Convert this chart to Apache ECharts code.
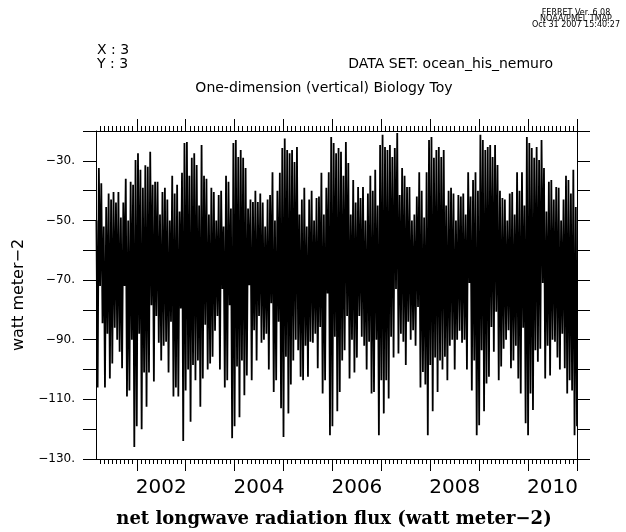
<!DOCTYPE html>
<html><head><meta charset="utf-8">
<script src="https://cdn.jsdelivr.net/npm/echarts@6/dist/echarts.min.js"></script>
<style>html,body{margin:0;padding:0;background:#fff;}#c{width:626px;height:532px;}</style>
</head><body><div id="c"></div>
<script>
// time base of the series (decimal years) and spacing between successive extremes
const startYear = 2001.175;
const stepYears = 0.05;
const axisMinYear = 2001.1667;
const axisMaxYear = 2011;

// upper extremes (watt meter-2)
const hiA = [-50,-32.4,-37.5,-52,-45.5,-41,-43,-40.5,-44,-40.5,
  -49,-44,-36,-50,-37,-38,-29.7,-27.5,-33,-39,
  -31.5,-32,-27,-38,-37,-37,-48,-40.5,-39,-43,
  -50,-35,-41,-38,-47,-34,-24,-23.7,-35,-29,
  -27.5,-31.4,-45,-24.7,-35,-36,-48,-39,-40.5,-50];
const hiB = [-41.5,-40,-52,-35,-37,-46,-24,-23,-28.7,-26.4,
  -29,-32.4,-46,-43,-43.8,-40,-43.8,-41,-44,-52,
  -43,-41.5,-33.8,-50,-40,-34,-25.7,-22.5,-26.4,-27.5,
  -26.4,-30.4,-25.4,-48,-43,-39,-52,-43,-40,-50,
  -42.5,-42,-34,-48,-39,-33.8,-22,-24,-27.5,-25.7];
const hiC = [-27,-35,-23.7,-30.7,-48,-36.4,-44,-38.8,-42.5,-38.8,
  -50,-41,-35,-40,-33,-45,-24.7,-21.3,-25.4,-26.4,
  -24.7,-28.7,-25.7,-20.7,-41.5,-32.4,-35,-38.8,-38.8,-50,
  -48,-42,-33.8,-40,-49,-33.8,-23,-22,-29,-26.4,
  -25.4,-28.7,-26.4,-45,-40,-39,-41,-50,-41.5,-42];
const hiD = [-41,-48,-33.8,-42,-36.4,-33.8,-40,-21.3,-23,-26.4,
  -25.4,-24.7,-28.7,-24.7,-31.4,-40,-42.5,-43,-50,-41,
  -40.5,-48,-33.8,-40,-33.8,-45,-22,-24,-25.7,-29,
  -25.4,-29.7,-23,-32.4,-47,-37,-36.4,-43,-38.8,-39,
  -50,-43,-35,-36.4,-41,-33,-45.5];

// lower extremes (watt meter-2)
const loA = [-106,-72,-84.5,-106,-88,-103,-98,-86,-90,-94,
  -99.6,-72,-109,-107,-90,-126,-119,-88,-120,-101,
  -112.5,-101,-78.4,-104,-82,-91,-97,-92,-90.7,-101,
  -84,-109,-106,-109,-79.5,-124,-107,-100,-117.5,-98.5,
  -103.6,-97,-112.5,-103,-85,-100,-98,-95.7,-87,-82];
const loB = [-100,-73,-106,-103.6,-78.4,-123,-119,-99,-116,-97,
  -108.6,-102,-71.7,-103.6,-86.8,-97,-82,-91,-90,-88,
  -100,-77.8,-107.5,-103.6,-84,-113,-122.6,-95.7,-114.7,-105,
  -97,-90,-93.5,-102.4,-103.6,-92,-102.4,-90.7,-91,-88,
  -99.6,-85.7,-108,-103.6,-74.5,-122,-119,-89,-114,-107.5];
const loC = [-97,-93.5,-82,-103,-90,-101,-96,-82,-89,-92,
  -100,-90.7,-108,-107.5,-90,-122,-103.6,-114.7,-103.6,-109.7,
  -89,-96,-73,-94.6,-88,-90.7,-98.5,-84,-90,-86.8,
  -92,-79,-106,-100.8,-105,-122,-98.5,-114,-96,-107.5,
  -97,-100,-95.7,-103.6,-92,-90,-100,-90,-87,-91];
const loD = [-90,-100,-71,-107,-97,-122,-118.7,-93.5,-114,-104.7,
  -102.4,-85.7,-94,-80.6,-103.6,-99,-93,-90,-86.8,-99.6,
  -97,-92,-103,-108,-86,-118,-122,-108,-113.6,-93.5,
  -97.4,-93,-71,-103,-92,-102,-90,-90.7,-96,-100,
  -88,-99.6,-108,-103.6,-107,-122,-119];

// tick labels
const yearLabels = [2002, 2004, 2006, 2008, 2010];
const yLabelValues = [-30, -50, -70, -90, -110, -130];
const yLabelTexts = ['\u221230.', '\u221250.', '\u221270.', '\u221290.', '\u2212110.', '\u2212130.'];
const yearTicks = [2002, 2003, 2004, 2005, 2006, 2007, 2008, 2009, 2010, 2011];

const hi = hiA.concat(hiB, hiC, hiD);
const lo = loA.concat(loB, loC, loD);
const seriesData = [];
for (let i = 0; i < hi.length; i++) {
  seriesData.push([startYear + i * stepYears, hi[i]]);
  seriesData.push([startYear + (i + 0.5) * stepYears, lo[i]]);
}
const monthTicks = [];
for (let y = 2001; y < 2011; y++) {
  for (let m = 0; m < 12; m++) {
    const v = y + m / 12;
    if (v > axisMinYear + 0.01 && v < axisMaxYear) monthTicks.push(v);
  }
}
const labelPos = yearLabels.map(y => y + 0.5);

const FONT = 'DejaVu Sans';
function xAx(pos, major, withLabels) {
  return {
    type: 'value', position: pos, min: axisMinYear, max: axisMaxYear,
    axisLine: { show: major, onZero: false, lineStyle: { color: '#000', width: 1 } },
    axisTick: { show: true, inside: false, length: major ? 12 : 5,
      customValues: major ? yearTicks : monthTicks,
      lineStyle: { color: '#000', width: 1 } },
    axisLabel: withLabels ? { show: true, customValues: labelPos,
      formatter: v => String(Math.floor(v)), color: '#000',
      fontFamily: FONT, fontSize: 20, margin: 19 } : { show: false },
    splitLine: { show: false }
  };
}

const chart = echarts.init(document.getElementById('c'), null, { renderer: 'canvas' });
chart.setOption({
  animation: false,
  backgroundColor: '#fff',
  grid: { left: 96, right: 49, top: 131, bottom: 73, containLabel: false },
  xAxis: [xAx('bottom', true, true), xAx('bottom', false, false), xAx('top', true, false), xAx('top', false, false)],
  yAxis: [
    { type: 'value', position: 'left', min: -130, max: -20, interval: 10,
      name: 'watt meter\u22122', nameLocation: 'middle', nameGap: 68,
      nameTextStyle: { color: '#000', fontFamily: FONT, fontSize: 16 },
      axisLine: { show: true, onZero: false, lineStyle: { color: '#000', width: 1 } },
      axisTick: { show: true, inside: false, length: 13, lineStyle: { color: '#000' } },
      axisLabel: { show: true, customValues: yLabelValues,
        formatter: v => yLabelTexts[yLabelValues.indexOf(v)] || '',
        color: '#000', fontFamily: FONT, fontSize: 12, margin: 21 },
      splitLine: { show: false } },
    { type: 'value', position: 'right', min: -130, max: -20, interval: 10,
      axisLine: { show: true, onZero: false, lineStyle: { color: '#000', width: 1 } },
      axisTick: { show: true, inside: false, length: 13, lineStyle: { color: '#000' } },
      axisLabel: { show: false }, splitLine: { show: false } }
  ],
  series: [{
    type: 'line', xAxisIndex: 0, yAxisIndex: 0, data: seriesData,
    showSymbol: false, symbol: 'none', sampling: null, clip: true,
    lineStyle: { color: '#000', width: 1.8 }
  }],
  graphic: [
    { type: 'text', x: 576, y: 12.5, style: { text: 'FERRET Ver. 6.08', fontFamily: FONT, fontSize: 8, fill: '#000', textAlign: 'center', textVerticalAlign: 'middle' } },
    { type: 'text', x: 576, y: 18.8, style: { text: 'NOAA/PMEL TMAP', fontFamily: FONT, fontSize: 8, fill: '#000', textAlign: 'center', textVerticalAlign: 'middle' } },
    { type: 'text', x: 576, y: 25.2, style: { text: 'Oct 31 2007 15:40:27', fontFamily: FONT, fontSize: 8, fill: '#000', textAlign: 'center', textVerticalAlign: 'middle' } },
    { type: 'text', x: 97, y: 50, style: { text: 'X : 3', fontFamily: FONT, fontSize: 14, fill: '#000', textAlign: 'left', textVerticalAlign: 'middle' } },
    { type: 'text', x: 97, y: 64, style: { text: 'Y : 3', fontFamily: FONT, fontSize: 14, fill: '#000', textAlign: 'left', textVerticalAlign: 'middle' } },
    { type: 'text', x: 553, y: 64, style: { text: 'DATA SET: ocean_his_nemuro', fontFamily: FONT, fontSize: 14, fill: '#000', textAlign: 'right', textVerticalAlign: 'middle' } },
    { type: 'text', x: 324, y: 88, style: { text: 'One-dimension (vertical) Biology Toy', fontFamily: FONT, fontSize: 14, fill: '#000', textAlign: 'center', textVerticalAlign: 'middle' } },
    { type: 'text', x: 334, y: 519, style: { text: 'net longwave radiation flux (watt meter\u22122)', fontFamily: 'DejaVu Serif', fontWeight: 'bold', fontSize: 18, fill: '#000', textAlign: 'center', textVerticalAlign: 'middle' } }
  ]
});
</script>
</body></html>
